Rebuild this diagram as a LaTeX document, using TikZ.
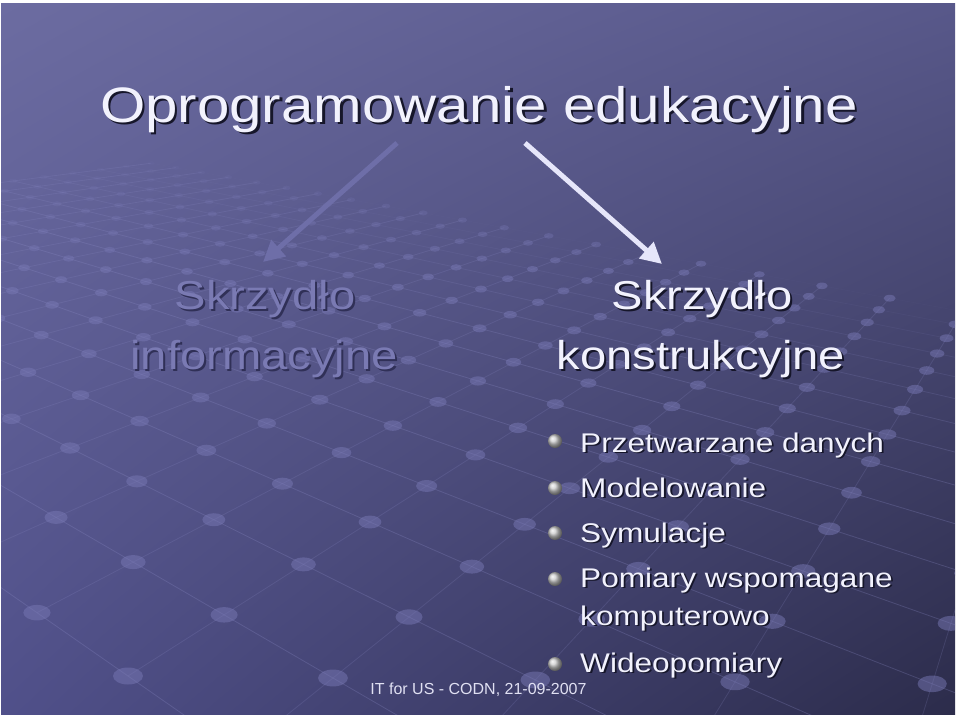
\documentclass[tikz,border=0pt]{standalone}
\usepackage{fontspec}
\setmainfont{Liberation Sans}
\usepackage{graphicx}
\usetikzlibrary{arrows.meta,shadings}

\definecolor{bgUL}{HTML}{6C6CA1}
\definecolor{bgUR}{HTML}{58588A}
\definecolor{bgLL}{HTML}{50508A}
\definecolor{bgLR}{HTML}{2C2C4B}
\definecolor{txtc}{HTML}{F2F2FD}
\definecolor{shc}{HTML}{16162A}
\definecolor{fadec}{HTML}{7A7AB3}
\definecolor{fadesh}{HTML}{303057}
\definecolor{arrc}{HTML}{E6E6FA}
\definecolor{farrc}{HTML}{6E6EA8}
\definecolor{dotc}{HTML}{7878B4}
\definecolor{linec}{HTML}{8A8AC4}
\definecolor{footc}{HTML}{E0E0F2}

\newcommand{\wide}[1]{\scalebox{1.17}[1]{#1}}

\begin{document}
\begin{tikzpicture}[x=1pt,y=-1pt,
  ttl/.style={font=\fontsize{49.8}{58}\selectfont, text=txtc, inner sep=0pt, anchor=base},
  ttlsh/.style={ttl, text=shc, xshift=2.5pt, yshift=-2.5pt},
  hd/.style={font=\fontsize{40.3}{48}\selectfont, text=txtc, inner sep=0pt, anchor=base},
  hdsh/.style={hd, text=shc, xshift=2pt, yshift=-2pt},
  fhd/.style={hd, text=fadec},
  fhdsh/.style={hd, text=fadesh, xshift=2pt, yshift=-2pt},
  btxt/.style={font=\fontsize{27}{32}\selectfont, text=txtc, inner sep=0pt, anchor=base west},
  btxtsh/.style={btxt, text=shc, xshift=1.8pt, yshift=-1.8pt},
  ballstyle/.style={circle, minimum size=14pt, inner sep=0pt, shading=ball, ball color=black!20},
  foot/.style={font=\fontsize{16}{19}\selectfont, text=footc, inner sep=0pt, anchor=base},
  arr/.style={line width=5pt, draw=arrc, -{Triangle[length=21pt,width=21pt]}},
  farr/.style={line width=5pt, draw=farrc, -{Triangle[length=21pt,width=21pt]}},
  gridline/.style={draw=linec, line width=0.8pt}
]
\useasboundingbox (0,0) rectangle (960,720);
\fill[white] (0,0) rectangle (960,720);
\shade[upper left=bgUL, upper right=bgUR, lower left=bgLL, lower right=bgLR] (1,3) rectangle (955,714);

% perspective grid of the background
\begin{scope}
\clip (1,3) rectangle (955,714);
\foreach \r in {0,...,16}{
  \pgfmathsetmacro\wa{1-0.0993*(-16)+0.1059*\r}
  \pgfmathsetmacro\xa{(128+87.34*(-16)+119.85*\r)/\wa}
  \pgfmathsetmacro\ya{(676+2.51*(-16)+3.95*\r)/\wa}
  \pgfmathsetmacro\wb{1-0.0993*6+0.1059*\r}
  \pgfmathsetmacro\xb{(128+87.34*6+119.85*\r)/\wb}
  \pgfmathsetmacro\yb{(676+2.51*6+3.95*\r)/\wb}
  \pgfmathsetmacro\op{0.28*max(0,min(1,(17-\r)/9))}
  \draw[gridline, draw opacity=\op] (\xa,\ya) -- (\xb,\yb);
}
\foreach \c in {-16,...,6}{
  \pgfmathsetmacro\wa{1-0.0993*\c}
  \pgfmathsetmacro\xa{(128+87.34*\c)/\wa}
  \pgfmathsetmacro\ya{(676+2.51*\c)/\wa}
  \pgfmathsetmacro\wb{1-0.0993*\c+0.1059*16}
  \pgfmathsetmacro\xb{(128+87.34*\c+119.85*16)/\wb}
  \pgfmathsetmacro\yb{(676+2.51*\c+3.95*16)/\wb}
  \draw[gridline, draw opacity=0.2] (\xa,\ya) -- (\xb,\yb);
}
\foreach \c in {-16,...,6}{
  \foreach \r in {0,...,16}{
    \pgfmathsetmacro\w{1-0.0993*\c+0.1059*\r}
    \pgfmathsetmacro\px{(128+87.34*\c+119.85*\r)/\w}
    \pgfmathsetmacro\py{(676+2.51*\c+3.95*\r)/\w}
    \pgfmathsetmacro\op{0.5*max(0,min(1,(\py-140)/130))}
    \pgfmathsetmacro\rx{15/\w}
    \pgfmathsetmacro\ry{8.5/\w}
    \fill[dotc, fill opacity=\op] (\px,\py) ellipse[x radius=\rx, y radius=\ry];
  }
}
\end{scope}

% title
\node[ttlsh] (title-s) at (479,122) {\wide{Oprogramowanie edukacyjne}};
\node[ttl] (title) at (479,122) {\wide{Oprogramowanie edukacyjne}};

% arrows
\coordinate (la-s) at (397,143);
\coordinate (la-e) at (263,262);
\coordinate (ra-s) at (525,143);
\coordinate (ra-e) at (662,264);
\draw[farr] (la-s) -- (la-e);
\draw[arr] (ra-s) -- (ra-e);

% left (faded) heading
\node[fhdsh] (l1-s) at (265,309) {\wide{Skrzydło}};
\node[fhd] (l1) at (265,309) {\wide{Skrzydło}};
\node[fhdsh] (l2-s) at (264,369) {\wide{informacyjne}};
\node[fhd] (l2) at (264,369) {\wide{informacyjne}};

% right heading
\node[hdsh] (r1-s) at (702,309) {\wide{Skrzydło}};
\node[hd] (r1) at (702,309) {\wide{Skrzydło}};
\node[hdsh] (r2-s) at (701,369) {\wide{konstrukcyjne}};
\node[hd] (r2) at (701,369) {\wide{konstrukcyjne}};

% bullets
\node[ballstyle] (b1) at (555,441) {};
\node[ballstyle] (b2) at (555,488) {};
\node[ballstyle] (b3) at (555,533) {};
\node[ballstyle] (b4) at (555,579) {};
\node[ballstyle] (b5) at (555,664) {};

\node[btxtsh] (t1-s) at (580,452) {\wide{Przetwarzane danych}};
\node[btxt] (t1) at (580,452) {\wide{Przetwarzane danych}};
\node[btxtsh] (t2-s) at (580,497) {\wide{Modelowanie}};
\node[btxt] (t2) at (580,497) {\wide{Modelowanie}};
\node[btxtsh] (t3-s) at (580,542) {\wide{Symulacje}};
\node[btxt] (t3) at (580,542) {\wide{Symulacje}};
\node[btxtsh] (t4-s) at (580,587) {\wide{Pomiary wspomagane}};
\node[btxt] (t4) at (580,587) {\wide{Pomiary wspomagane}};
\node[btxtsh] (t4b-s) at (580,625) {\wide{komputerowo}};
\node[btxt] (t4b) at (580,625) {\wide{komputerowo}};
\node[btxtsh] (t5-s) at (580,672) {\wide{Wideopomiary}};
\node[btxt] (t5) at (580,672) {\wide{Wideopomiary}};

% footer
\node[foot] (footer) at (478.5,694) {IT for US - CODN, 21-09-2007};
\end{tikzpicture}
\end{document}
